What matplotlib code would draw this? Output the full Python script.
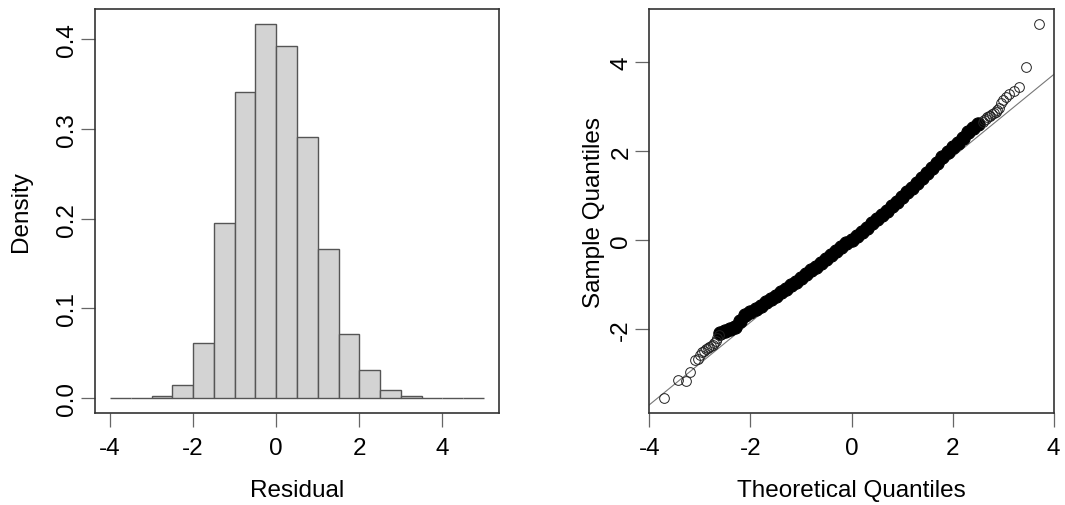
import numpy as np
import matplotlib
matplotlib.use("Agg")
import matplotlib.pyplot as plt

plt.rcParams["font.family"] = ["Liberation Sans", "DejaVu Sans"]
plt.rcParams["font.size"] = 17.5
plt.rcParams["axes.unicode_minus"] = False

# Histogram of residuals (density per bin of width 0.5)
bin_edges = [-4.0, -3.5, -3.0, -2.5, -2.0, -1.5, -1.0, -0.5, 0.0, 0.5,
             1.0, 1.5, 2.0, 2.5, 3.0, 3.5, 4.0, 4.5, 5.0]
densities = [0.0, 0.0005, 0.002, 0.0148, 0.0609, 0.195, 0.3417, 0.417, 0.392,
             0.291, 0.166, 0.0709, 0.0308, 0.0089, 0.0022, 0.0, 0.0, 0.0]

# Normal Q-Q plot: dense middle part of the curve
band_theo = [-2.6, -2.5, -2.4, -2.3, -2.2, -2.1, -2.0, -1.9, -1.8, -1.7, -1.6,
             -1.5, -1.4, -1.3, -1.2, -1.1, -1.0, -0.9, -0.8, -0.7, -0.6, -0.5,
             -0.4, -0.3, -0.2, -0.1, 0.0, 0.1, 0.2, 0.3, 0.4, 0.5, 0.6, 0.7,
             0.8, 0.9, 1.0, 1.1, 1.2, 1.3, 1.4, 1.5, 1.6, 1.7, 1.8, 1.9, 2.0,
             2.1, 2.2, 2.3, 2.4, 2.5]
band_sample = [-2.10, -2.05, -2.00, -1.95, -1.82, -1.70, -1.62, -1.55, -1.48,
               -1.40, -1.33, -1.27, -1.18, -1.10, -1.02, -0.94, -0.85, -0.77,
               -0.68, -0.60, -0.51, -0.42, -0.34, -0.25, -0.17, -0.08, 0.00,
               0.09, 0.18, 0.27, 0.37, 0.47, 0.57, 0.66, 0.76, 0.86, 0.96,
               1.07, 1.17, 1.28, 1.39, 1.51, 1.62, 1.74, 1.86, 1.97, 2.08,
               2.19, 2.30, 2.42, 2.52, 2.60]

# Sparse tails (individual circles)
low_theo = [-3.71, -3.44, -3.28, -3.19, -3.10, -3.04, -3.00, -2.96, -2.92,
            -2.88, -2.85, -2.82, -2.78, -2.75, -2.72, -2.69, -2.66, -2.63]
low_sample = [-3.55, -3.15, -3.17, -2.97, -2.71, -2.68, -2.58, -2.52, -2.50,
              -2.46, -2.44, -2.40, -2.38, -2.36, -2.33, -2.28, -2.20, -2.14]
high_theo = [2.60, 2.63, 2.66, 2.69, 2.72, 2.75, 2.78, 2.82, 2.85, 2.88,
             2.91, 2.95, 2.99, 3.05, 3.12, 3.21, 3.31, 3.45, 3.71]
high_sample = [2.66, 2.70, 2.73, 2.76, 2.78, 2.80, 2.83, 2.86, 2.88, 2.92,
               2.98, 3.08, 3.15, 3.21, 3.28, 3.36, 3.44, 3.89, 4.86]

# qqline through the quartiles
line_intercept = 0.005
line_slope = 0.929

fig = plt.figure(figsize=(10.65, 5.06), dpi=100)
ax1 = fig.add_axes([0.0892, 0.1818, 0.3793, 0.7984])
ax2 = fig.add_axes([0.6094, 0.1818, 0.3803, 0.7984])

edge = "#555555"

# ---- histogram
ax1.bar(bin_edges[:-1], densities, width=0.5, align="edge",
        color="#d3d3d3", edgecolor=edge, linewidth=1.0)
ax1.set_xlim(-4.36, 5.36)
ax1.set_ylim(-0.0167, 0.4337)
ax1.set_xticks([-4, -2, 0, 2, 4])
ax1.set_yticks([0.0, 0.1, 0.2, 0.3, 0.4])
ax1.set_yticklabels(["0.0", "0.1", "0.2", "0.3", "0.4"])
ax1.set_xlabel("Residual")
ax1.set_ylabel("Density")
ax1.xaxis.set_label_coords(0.5, -0.163)
ax1.yaxis.set_label_coords(-0.157, 0.5)

# ---- Q-Q plot
xl = np.array([-4.1, 4.1])
ax2.plot(xl, line_intercept + line_slope * xl, color="#777777", linewidth=0.8)
ax2.plot(band_theo, band_sample, linestyle="none", marker="o",
         markersize=9.6, markerfacecolor="black", markeredgecolor="black",
         markeredgewidth=0.8)
ax2.plot(low_theo, low_sample, linestyle="none", marker="o", markersize=7,
         markerfacecolor="none", markeredgecolor="#222222", markeredgewidth=0.7)
ax2.plot(high_theo, high_sample, linestyle="none", marker="o", markersize=7,
         markerfacecolor="none", markeredgecolor="#222222", markeredgewidth=0.7)
ax2.set_xlim(-4.008, 4.008)
ax2.set_ylim(-3.897, 5.197)
ax2.set_xticks([-4, -2, 0, 2, 4])
ax2.set_yticks([-2, 0, 2, 4])
ax2.set_xlabel("Theoretical Quantiles")
ax2.set_ylabel("Sample Quantiles")
ax2.xaxis.set_label_coords(0.5, -0.163)
ax2.yaxis.set_label_coords(-0.1086, 0.5)

for ax in (ax1, ax2):
    for s in ax.spines.values():
        s.set_color("#333333")
        s.set_linewidth(1.2)
    ax.tick_params(direction="out", length=10, width=0.9, color="#666666",
                   labelsize=17.5)
    ax.tick_params(axis="x", pad=7)
    ax.tick_params(axis="y", pad=2, labelrotation=90)
    for lab in ax.get_yticklabels():
        lab.set_verticalalignment("center")

fig.savefig("out.png", dpi=100)
